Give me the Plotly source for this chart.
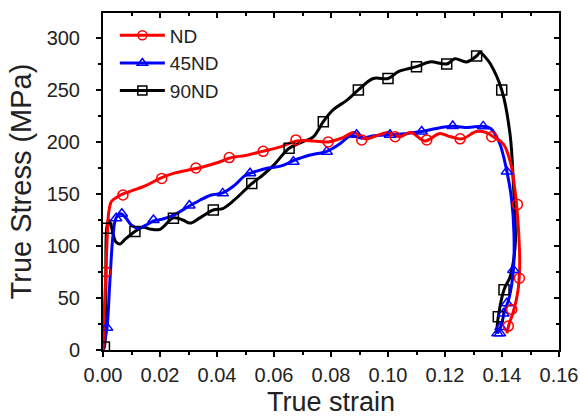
import plotly.graph_objects as go

# ---- Data ----
nd_x = [0, 0.0005, 0.001, 0.0015, 0.002, 0.003, 0.005, 0.007, 0.01, 0.015, 0.02, 0.025, 0.03, 0.035,
        0.04, 0.045, 0.05, 0.056, 0.062, 0.068, 0.074, 0.079, 0.084, 0.088, 0.092, 0.096, 0.1, 0.104,
        0.108, 0.113, 0.118, 0.122, 0.126, 0.131, 0.1345, 0.137, 0.1405, 0.143, 0.1447, 0.1458,
        0.1462, 0.1455, 0.144, 0.1425, 0.1417]
nd_y = [0, 40, 75, 110, 132, 143, 147, 150, 153, 158, 165, 170, 173, 176,
        180, 185, 187, 191, 195, 201, 201, 200, 204, 209, 203, 206, 209, 205,
        209, 201, 208, 205, 203, 210, 209, 205, 198, 180, 150, 115,
        80, 55, 37, 25, 16]
nd_mx = [0.001, 0.007, 0.0206, 0.0326, 0.0443, 0.0562, 0.0677, 0.079, 0.0908, 0.1025, 0.1136,
         0.1253, 0.1364, 0.1454, 0.1461, 0.1434, 0.1422]
nd_my = [75, 149, 165, 175, 185, 191, 202, 200, 202, 205, 202, 203, 205, 140, 69, 39, 23]

d45_x = [0, 0.0007, 0.0014, 0.0025, 0.0035, 0.0046, 0.0062, 0.008, 0.01, 0.0124, 0.015, 0.0177,
         0.021, 0.025, 0.03, 0.034, 0.038, 0.042, 0.046, 0.05, 0.054, 0.058, 0.0626, 0.0668, 0.072,
         0.0785, 0.083, 0.087, 0.0908, 0.095, 0.1007, 0.106, 0.1118, 0.117, 0.1227, 0.128, 0.1334,
         0.136, 0.139, 0.1417, 0.1434, 0.1442, 0.144, 0.1425, 0.141, 0.1395, 0.1384]
d45_y = [0, 10, 21, 70, 110, 127, 131, 127, 120, 117, 120, 124,
         126, 130, 138, 144, 149, 151, 158, 168, 172, 175, 177, 182, 187,
         191, 198, 206, 203.5, 206, 207, 208, 210, 213, 215, 214, 215,
         213, 200, 172, 144, 112, 77, 50, 38, 22, 16]
d45_mx = [0.0014, 0.0046, 0.0066, 0.0177, 0.0303, 0.042, 0.0516, 0.0668, 0.0785, 0.089, 0.1007,
          0.1118, 0.1227, 0.1334, 0.1417, 0.144, 0.1417, 0.1405, 0.1395, 0.1384, 0.1393]
d45_my = [21.5, 126.6, 131, 125, 139, 150.6, 170, 181, 190.7, 207, 207,
          210, 215.4, 215, 171.5, 77, 45, 35, 22, 16, 16]

d90_x = [0, 0.0005, 0.001, 0.0013, 0.002, 0.003, 0.0045, 0.006, 0.008, 0.0112, 0.014, 0.017, 0.02,
         0.0247, 0.028, 0.0305, 0.034, 0.0387, 0.042, 0.046, 0.0522, 0.056, 0.06, 0.0653, 0.07,
         0.0738, 0.0773, 0.0808, 0.0855, 0.0896, 0.0948, 0.1, 0.1036, 0.11, 0.1147, 0.1206, 0.1235,
         0.1276, 0.1311, 0.1323, 0.134, 0.1358, 0.1399, 0.1428, 0.144, 0.1447, 0.144, 0.1428,
         0.1407, 0.1387, 0.1381]
d90_y = [0, 3, 60, 117, 125, 118, 104, 102, 107, 114, 118, 116, 116,
         127, 125, 122, 127, 134.6, 136, 144, 160, 168, 178, 194, 200,
         205, 219.5, 231, 240, 250, 261, 261, 267.6, 272.4, 277, 275, 280,
         277, 282.7, 286, 282, 275.6, 250, 208, 160, 105, 85, 70,
         58, 32, 16]
d90_mx = [0.0005, 0.0013, 0.0112, 0.0247, 0.0387, 0.0522, 0.0653, 0.0773, 0.0896, 0.1, 0.11,
          0.1206, 0.1311, 0.1399, 0.1407, 0.1387]
d90_my = [3, 117, 114, 126.6, 134.6, 160, 194, 219.5, 250, 261, 272.4,
          275, 282.7, 250, 58, 32]

series = [
    ("90ND", d90_x, d90_y, d90_mx, d90_my, "#000000", "square-open"),
    ("45ND", d45_x, d45_y, d45_mx, d45_my, "#0000ff", "triangle-up-open"),
    ("ND", nd_x, nd_y, nd_mx, nd_my, "#ff0000", "circle-open"),
]

fig = go.Figure()
for name, x, y, mx, my, col, sym in series:
    fig.add_trace(go.Scatter(x=x, y=y, mode="lines", line=dict(color=col, width=3, shape="spline"),
                             showlegend=False, hoverinfo="skip"))
for name, x, y, mx, my, col, sym in series:
    fig.add_trace(go.Scatter(x=mx, y=my, mode="markers",
                             marker=dict(symbol=sym, size=10, color=col, line=dict(width=1.5, color=col)),
                             showlegend=False))
# legend entries (ND, 45ND, 90ND order)
for name, x, y, mx, my, col, sym in reversed(series):
    fig.add_trace(go.Scatter(x=[None], y=[None], mode="lines+markers", name=name,
                             line=dict(color=col, width=3),
                             marker=dict(symbol=sym, size=9, color=col, line=dict(width=1.5, color=col))))

font = "Liberation Sans, Arial, sans-serif"
axcommon = dict(showline=True, linecolor="black", linewidth=2, showgrid=False, zeroline=False,
                ticklen=5, tickwidth=1.5, tickcolor="black", automargin=False)
fig.update_layout(
    width=580, height=417,
    margin=dict(l=103, r=21, t=13, b=67),
    paper_bgcolor="white", plot_bgcolor="white",
    font=dict(family=font, color="#222222"),
    showlegend=True,
    legend=dict(x=0.026, y=0.99, xanchor="left", yanchor="top", bgcolor="rgba(0,0,0,0)",
                font=dict(size=19, family=font, color="#222222"), tracegroupgap=0,
                traceorder="normal", itemwidth=45),
    xaxis=dict(range=[0, 0.16], dtick=0.02, tickformat=".2f", ticks="outside",
               tickfont=dict(size=20), ticklabelstandoff=1,
               title=dict(text="True strain", font=dict(size=27), standoff=12),
               minor=dict(dtick=0.01, ticks="outside", ticklen=3, tickcolor="black", tickwidth=1.5),
               **axcommon),
    yaxis=dict(range=[0, 324], dtick=50, ticks="outside", tickfont=dict(size=20),
               title=dict(text="True Stress (MPa)", font=dict(size=29), standoff=6),
               minor=dict(dtick=25, ticks="outside", ticklen=3, tickcolor="black", tickwidth=1.5),
               ticklabelstandoff=12,
               **axcommon),
    xaxis2=dict(range=[0, 0.16], dtick=0.02, overlaying="x", side="top", ticks="inside",
                showticklabels=False,
                minor=dict(dtick=0.01, ticks="inside", ticklen=3, tickcolor="black", tickwidth=1.5),
                **axcommon),
    yaxis2=dict(range=[0, 324], dtick=50, overlaying="y", side="right", ticks="inside",
                showticklabels=False,
                minor=dict(dtick=25, ticks="inside", ticklen=3, tickcolor="black", tickwidth=1.5),
                **axcommon),
)
fig.add_trace(go.Scatter(x=[None], y=[None], xaxis="x2", yaxis="y2", showlegend=False, hoverinfo="skip"))

fig.write_html("out.html", config={"displayModeBar": False},
               post_script="document.body.style.margin='0';")
